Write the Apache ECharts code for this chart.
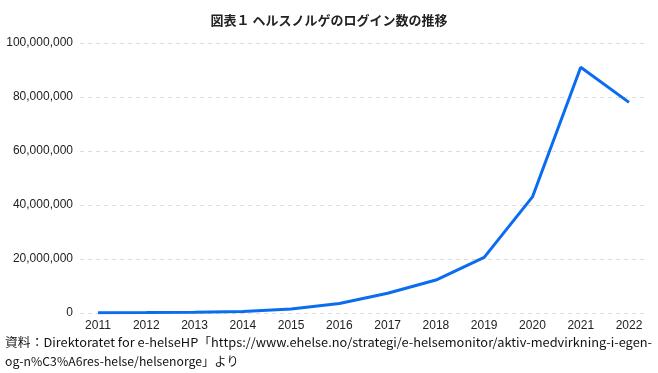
<!DOCTYPE html>
<html><head><meta charset="utf-8">
<script src="https://cdn.jsdelivr.net/npm/echarts@6/dist/echarts.min.js"></script>
<style>html,body{margin:0;padding:0;background:#fff}#c{width:658px;height:373px}</style>
</head><body><div id="c"></div>
<script>
const years = ['2011','2012','2013','2014','2015','2016','2017','2018','2019','2020','2021','2022'];
const logins = [100000,150000,300000,600000,1500000,3500000,7300000,12200000,20600000,43000000,91000000,78000000];
const yTicks = {min:0, max:100000000, interval:20000000};
const titleText = '図表１ ヘルスノルゲのログイン数の推移';
const sourceLine1 = '資料：Direktoratet for e-helseHP「https://www.ehelse.no/strategi/e-helsemonitor/aktiv-medvirkning-i-egen-';
const sourceLine2 = 'og-n%C3%A6res-helse/helsenorge」より';

const chart = echarts.init(document.getElementById('c'), null, {renderer:'canvas'});
const fmt = v => v.toLocaleString('en-US');

// measure line 1 so it can be justified to the full width like the reference
const ctx = document.createElement('canvas').getContext('2d');
ctx.font = '12px "Noto Sans CJK JP"';
const w1 = ctx.measureText(sourceLine1).width || 577;
const sx = 647 / w1;

chart.setOption({
  animation:false,
  title:{text:titleText,left:'center',top:9,textStyle:{fontFamily:'Noto Sans CJK JP',fontSize:13,fontWeight:'bold',color:'#222'}},
  grid:[
    {left:80,right:10,top:43,bottom:60},
    {left:98,right:29,top:43,bottom:60}
  ],
  xAxis:[
    {gridIndex:0,type:'category',data:years,show:false},
    {gridIndex:1,type:'category',data:years,boundaryGap:false,
     axisLine:{show:false},axisTick:{show:false},
     axisLabel:{color:'#222',fontFamily:'Liberation Sans',fontSize:12,margin:7}}
  ],
  yAxis:[
    {gridIndex:0,type:'value',min:yTicks.min,max:yTicks.max,interval:yTicks.interval,
     axisLine:{show:false},axisTick:{show:false},
     axisLabel:{color:'#222',fontFamily:'Liberation Sans',fontSize:12,margin:7,formatter:fmt},
     splitLine:{show:true,lineStyle:{color:'#dcdcdc',type:[4,4],width:1}}},
    {gridIndex:1,type:'value',min:yTicks.min,max:yTicks.max,interval:yTicks.interval,show:false,splitLine:{show:false}}
  ],
  series:[{type:'line',xAxisIndex:1,yAxisIndex:1,data:logins,symbol:'none',
    lineStyle:{color:'#0a6cf0',width:3}}],
  graphic:[
    {type:'text',x:5,y:336,scaleX:sx,style:{text:sourceLine1,fontFamily:'Noto Sans CJK JP',fontSize:12,fill:'#111',verticalAlign:'top'}},
    {type:'text',x:5,y:355,scaleX:1.02,style:{text:sourceLine2,fontFamily:'Noto Sans CJK JP',fontSize:12,fill:'#111',verticalAlign:'top'}}
  ]
});
</script></body></html>
